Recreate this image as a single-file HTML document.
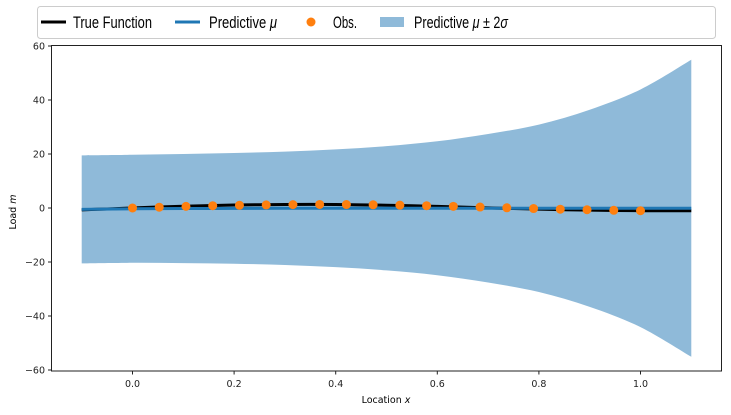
<!DOCTYPE html>
<html><head><meta charset="utf-8"><style>
body{margin:0;background:#fff;width:731px;height:411px;overflow:hidden;font-family:"DejaVu Sans","Liberation Sans",sans-serif}
</style></head><body>
<svg id="chart" width="731" height="411" viewBox="0 0 731 411" xmlns="http://www.w3.org/2000/svg">
<defs><clipPath id="clip"><rect x="51.5" y="45.5" width="670" height="325.5"/></clipPath></defs>
<g id="plot" clip-path="url(#clip)"></g>
<rect x="51.5" y="45.5" width="670" height="325.5" fill="none" stroke="#222" stroke-width="1"/>
<g id="axes" font-size="9.5" fill="#222"></g>
<text x="386" y="403" font-size="9.5" text-anchor="middle">Location <tspan font-style="italic">x</tspan></text>
<text x="0" y="0" font-size="9.5" text-anchor="middle" transform="translate(16,212) rotate(-90)">Load <tspan font-style="italic">m</tspan></text>
<g font-family="Liberation Sans, sans-serif">
<rect x="37.5" y="6.5" width="678" height="32" rx="3" fill="#fff" stroke="#ccc"/>
<g><line x1="41" y1="22" x2="66" y2="22" stroke="#000" stroke-width="3"/><text x="73" y="28" font-size="17" textLength="79" lengthAdjust="spacingAndGlyphs">True Function</text></g>
<g><line x1="175" y1="22" x2="200" y2="22" stroke="#1f77b4" stroke-width="3"/><text x="209" y="28" font-size="17" textLength="68" lengthAdjust="spacingAndGlyphs">Predictive <tspan font-style="italic">μ</tspan></text></g>
<g><circle cx="311" cy="22" r="4.5" fill="#ff7f0e"/><text x="333" y="28" font-size="17" textLength="24" lengthAdjust="spacingAndGlyphs">Obs.</text></g>
<g><rect x="380" y="17" width="24" height="10" fill="#8fbad9"/><text x="414" y="28" font-size="17" textLength="94" lengthAdjust="spacingAndGlyphs">Predictive <tspan font-style="italic">μ</tspan> ± 2<tspan font-style="italic">σ</tspan></text></g>
</g>
</svg>
<script>
const gridX = [-0.1,0,0.1,0.2,0.3,0.4,0.5,0.6,0.7,0.8,0.9,1.0,1.1];
const bandHalf = [20,20,20.2,20.5,21,21.8,23,24.8,27.5,31,36.5,44,55];
const muVals = [-0.5,-0.3,-0.2,-0.15,-0.1,-0.1,-0.1,-0.1,-0.1,-0.1,-0.1,-0.1,-0.1];
const trueX = [-0.1,-0.05,0,0.05,0.1,0.15,0.2,0.25,0.3,0.35,0.4,0.45,0.5,0.55,0.6,0.65,0.7,0.75,0.8,0.85,0.9,0.95,1.0,1.05,1.1];
const trueVals = [-0.7,-0.35,0,0.35,0.65,0.9,1.1,1.22,1.3,1.32,1.28,1.18,1.02,0.82,0.58,0.32,0.06,-0.2,-0.43,-0.63,-0.8,-0.92,-1.0,-1.03,-1.02];
const obsVals = [0,0.3,0.6,0.85,1.0,1.15,1.25,1.3,1.28,1.2,1.05,0.85,0.62,0.35,0.08,-0.2,-0.45,-0.65,-0.85,-1.0];
const xTicks = [0,0.2,0.4,0.6,0.8,1.0];
const xTickLabels = ["0.0","0.2","0.4","0.6","0.8","1.0"];
const yTicks = [-60,-40,-20,0,20,40,60];
const yTickLabels = ["−60","−40","−20","0","20","40","60"];
const X = v => 132.5 + v*508;
const Y = v => 208 - v*2.7;
const NS = "http://www.w3.org/2000/svg";
const plot = document.getElementById('plot');
const axes = document.getElementById('axes');
function mk(tag, attrs, parent){const e=document.createElementNS(NS,tag);for(const k in attrs)e.setAttribute(k,attrs[k]);parent.appendChild(e);return e;}
function smooth(xs, ys){ // catmull-rom path through data points
  let d='M'+X(xs[0])+','+Y(ys[0]);
  for(let i=0;i<xs.length-1;i++){
    const p0=[X(xs[Math.max(i-1,0)]),Y(ys[Math.max(i-1,0)])],p1=[X(xs[i]),Y(ys[i])],p2=[X(xs[i+1]),Y(ys[i+1])],p3=[X(xs[Math.min(i+2,xs.length-1)]),Y(ys[Math.min(i+2,xs.length-1)])];
    d+=' C'+(p1[0]+(p2[0]-p0[0])/6)+','+(p1[1]+(p2[1]-p0[1])/6)+' '+(p2[0]-(p3[0]-p1[0])/6)+','+(p2[1]-(p3[1]-p1[1])/6)+' '+p2[0]+','+p2[1];
  }
  return d;
}
const upper=gridX.map((x,i)=>muVals[i]+bandHalf[i]);
const lowerRev=gridX.map((x,i)=>muVals[i]-bandHalf[i]).reverse();
const xsRev=gridX.slice().reverse();
const dBand=smooth(gridX,upper)+' L'+smooth(xsRev,lowerRev).slice(1)+' Z';
const band=mk('path',{d:dBand,fill:'#8fbad9'},plot);


const tl=mk('path',{d:smooth(trueX,trueVals),fill:'none',stroke:'#000','stroke-width':3},plot);


const ml=mk('path',{d:smooth(gridX,muVals),fill:'none',stroke:'#1f77b4','stroke-width':3},plot);


obsVals.forEach((v,i)=>{
  const c=mk('circle',{cx:X(i/19),cy:Y(v),r:4.5,fill:'#ff7f0e'},plot);
  
  
});
xTicks.forEach((t,i)=>{
  const g=mk('g',{},axes);
  
  
  mk('line',{x1:X(t),x2:X(t),y1:371,y2:374.5,stroke:'#222'},g);
  const tx=mk('text',{x:X(t),y:387,'text-anchor':'middle'},g);tx.textContent=xTickLabels[i];
});
yTicks.forEach((t,i)=>{
  const g=mk('g',{},axes);
  
  
  mk('line',{x1:48,x2:51.5,y1:Y(t),y2:Y(t),stroke:'#222'},g);
  const tx=mk('text',{x:45,y:Y(t)+3.5,'text-anchor':'end'},g);tx.textContent=yTickLabels[i];
});
</script>
</body></html>
